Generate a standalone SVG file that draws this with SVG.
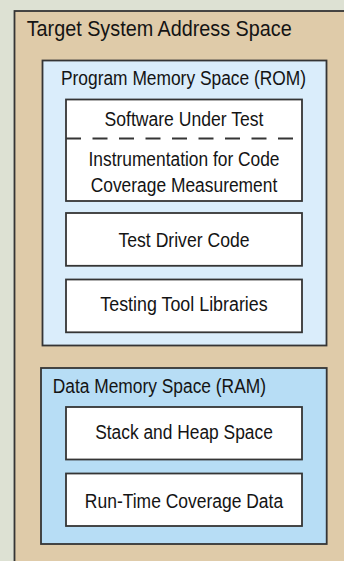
<svg xmlns="http://www.w3.org/2000/svg" width="344" height="561" viewBox="0 0 344 561">
  <style>
    .frame { stroke: #353535; stroke-width: 1.8; }
    .outer { fill: #dfcba9; }
    .rom { fill: #daedfb; }
    .ram { fill: #b7ddf5; }
    .item { fill: #ffffff; }
    text { font-family: "Liberation Sans", Arial, Helvetica, sans-serif; fill: #141414; }
    .t22 { font-size: 22px; }
    .t19 { font-size: 19.5px; }
    .mid { text-anchor: middle; }
    .dash { stroke: #353535; stroke-width: 1.8; stroke-dasharray: 15 11.5; fill: none; }
  </style>

  <!-- page background -->
  <rect x="0" y="0" width="344" height="561" fill="#dde1d3"/>

  <!-- whole address space -->
  <g id="target-system">
    <rect class="frame outer" x="14.5" y="11" width="340" height="560"/>
    <text class="t22" x="26.7" y="35.7" textLength="265" lengthAdjust="spacingAndGlyphs">Target System Address Space</text>
  </g>

  <!-- ROM region -->
  <g id="program-memory">
    <rect class="frame rom" x="42.5" y="60.5" width="284" height="285"/>
    <text class="t19 mid" x="183.5" y="85" textLength="245" lengthAdjust="spacingAndGlyphs">Program Memory Space (ROM)</text>
  </g>

  <g id="software-under-test">
    <rect class="frame item" x="66" y="99.5" width="236" height="101.5"/>
    <text class="t19 mid" x="184" y="126" textLength="159" lengthAdjust="spacingAndGlyphs">Software Under Test</text>
    <line class="dash" x1="66" y1="138.5" x2="302" y2="138.5"/>
    <text class="t19 mid" x="184" y="166" textLength="191" lengthAdjust="spacingAndGlyphs">Instrumentation for Code</text>
    <text class="t19 mid" x="184" y="191.5" textLength="186.6" lengthAdjust="spacingAndGlyphs">Coverage Measurement</text>
  </g>

  <g id="test-driver">
    <rect class="frame item" x="66" y="213" width="236" height="52.8"/>
    <text class="t19 mid" x="184" y="246.7" textLength="131" lengthAdjust="spacingAndGlyphs">Test Driver Code</text>
  </g>

  <g id="tool-libraries">
    <rect class="frame item" x="66" y="279.5" width="236" height="52.8"/>
    <text class="t19 mid" x="184" y="310.7" textLength="167.3" lengthAdjust="spacingAndGlyphs">Testing Tool Libraries</text>
  </g>

  <!-- RAM region -->
  <g id="data-memory">
    <rect class="frame ram" x="41" y="368" width="285.7" height="176"/>
    <text class="t19" x="52.7" y="392.7" textLength="213.3" lengthAdjust="spacingAndGlyphs">Data Memory Space (RAM)</text>
  </g>

  <g id="stack-heap">
    <rect class="frame item" x="66" y="407" width="236" height="52.5"/>
    <text class="t19 mid" x="184" y="439" textLength="177.7" lengthAdjust="spacingAndGlyphs">Stack and Heap Space</text>
  </g>

  <g id="coverage-data">
    <rect class="frame item" x="66" y="473.5" width="236" height="52.5"/>
    <text class="t19 mid" x="184" y="507.7" textLength="198.3" lengthAdjust="spacingAndGlyphs">Run-Time Coverage Data</text>
  </g>

  <!-- nesting only, no connectors -->
  <g id="connectors"/>
</svg>
